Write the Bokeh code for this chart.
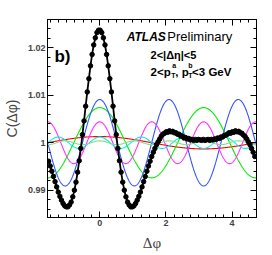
import numpy as np
from bokeh.plotting import figure
from bokeh.models import Label, LinearAxis, FixedTicker, Range1d
from bokeh.embed import file_html
from bokeh.resources import INLINE

# harmonic amplitudes (2 v_n), n = 1..6
harm_n = [1, 2, 3, 4, 5, 6]
harm_amp = [0.0013, 0.0074, 0.0091, 0.0044, 0.0012, 0.0004]
harm_col = ["#ff0000", "#00ee00", "#3355ff", "#ff33ff", "#00eeee", "#88dd88"]

c_vals = [
    0.9961, 0.9951, 0.9940, 0.9929, 0.9918, 0.9907, 0.9896, 0.9887, 0.9879, 0.9872, 0.9867, 0.9865,
    0.9865, 0.9869, 0.9875, 0.9886, 0.9900, 0.9917, 0.9938, 0.9962, 0.9988, 1.0017, 1.0046, 1.0077,
    1.0107, 1.0135, 1.0162, 1.0186, 1.0206, 1.0221, 1.0232, 1.0237, 1.0237, 1.0232, 1.0221, 1.0206,
    1.0186, 1.0162, 1.0135, 1.0107, 1.0077, 1.0046, 1.0017, 0.9988, 0.9962, 0.9938, 0.9917, 0.9900,
    0.9886, 0.9875, 0.9869, 0.9865, 0.9865, 0.9867, 0.9872, 0.9879, 0.9887, 0.9896, 0.9907, 0.9918,
    0.9929, 0.9940, 0.9951, 0.9961, 0.9971, 0.9980, 0.9988, 0.9996, 1.0002, 1.0008, 1.0014, 1.0018,
    1.0020, 1.0023, 1.0022, 1.0025, 1.0023, 1.0024, 1.0021, 1.0021, 1.0018, 1.0018, 1.0014, 1.0014,
    1.0010, 1.0011, 1.0008, 1.0009, 1.0006, 1.0007, 1.0005, 1.0007, 1.0005, 1.0007, 1.0006, 1.0005,
    1.0007, 1.0005, 1.0006, 1.0007, 1.0005, 1.0007, 1.0006, 1.0008, 1.0007, 1.0010, 1.0009, 1.0012,
    1.0012, 1.0015, 1.0016, 1.0018, 1.0021, 1.0020, 1.0023, 1.0022, 1.0025, 1.0023, 1.0024, 1.0021,
    1.0020, 1.0016, 1.0013, 1.0008, 1.0002, 0.9996, 0.9988, 0.9980, 0.9971,
]
nb = len(c_vals)
phi = -np.pi / 2 + (np.arange(nb) + 0.5) * 2 * np.pi / nb

x_ticks = [0, 2, 4]
y_ticks = [0.99, 1.0, 1.01, 1.02]
y_tick_labels = ["0.99", "1", "1.01", "1.02"]

x0, x1 = -1.58, 4.74
y0, y1 = 0.98425, 1.02596

p = figure(width=272, height=255, x_range=Range1d(x0, x1), y_range=Range1d(y0, y1),
           output_backend="svg", toolbar_location=None,
           min_border_left=45, min_border_right=16, min_border_top=19, min_border_bottom=38)
p.background_fill_color = "white"
p.border_fill_color = "white"
p.outline_line_color = "black"
p.xgrid.visible = False
p.ygrid.visible = False

xc = np.linspace(x0, x1, 600)
for n, a, c in zip(harm_n, harm_amp, harm_col):
    p.line(xc, 1 + a * np.cos(n * xc), line_color=c, line_width=1.1)

p.line(phi, c_vals, line_color="black", line_width=1.8)
p.scatter(phi, c_vals, size=4.5, color="black")

xt = FixedTicker(ticks=x_ticks, minor_ticks=list(np.arange(-1.5, 4.76, 0.25)))
yt = FixedTicker(ticks=y_ticks, minor_ticks=list(np.round(np.arange(0.986, 1.0261, 0.002), 3)))

def style(ax, ticker, labels=True):
    ax.ticker = ticker
    ax.axis_line_color = "black"
    ax.major_tick_in = 6
    ax.major_tick_out = 0
    ax.minor_tick_in = 3
    ax.minor_tick_out = 0
    ax.major_tick_line_color = "black"
    ax.minor_tick_line_color = "black"
    ax.major_label_text_font = "Liberation Sans"
    ax.major_label_text_font_style = "bold"
    ax.major_label_text_font_size = "9px"
    ax.major_label_standoff = 2
    if not labels:
        ax.major_label_overrides = {t: "" for t in ticker.ticks}
        ax.major_label_standoff = 0

style(p.xaxis[0], xt)
style(p.yaxis[0], yt)
p.yaxis[0].major_label_overrides = dict(zip(y_ticks, y_tick_labels))
p.xaxis[0].major_label_overrides = {t: str(t) for t in x_ticks}

p.xaxis[0].axis_label = "\u0394\u03c6"
p.xaxis[0].axis_label_text_font = "Liberation Serif"
p.xaxis[0].axis_label_text_font_style = "normal"
p.xaxis[0].axis_label_text_font_size = "15px"
p.xaxis[0].axis_label_standoff = 6

p.yaxis[0].axis_label = "C(\u0394\u03c6)"
p.yaxis[0].axis_label_text_font = "Liberation Sans"
p.yaxis[0].axis_label_text_font_style = "normal"
p.yaxis[0].axis_label_text_font_size = "14px"
p.yaxis[0].axis_label_standoff = 5

ax_top = LinearAxis()
style(ax_top, xt, False)
p.add_layout(ax_top, "above")
ax_r = LinearAxis()
style(ax_r, yt, False)
p.add_layout(ax_r, "right")

FL, FT, FW, FH = 45, 19, 211, 198
def dx(px):
    return x0 + (px - FL) / FW * (x1 - x0)
def dy(py):
    return y1 - (py - FT) / FH * (y1 - y0)

def txt(s, px, py, size, style="normal", font="Liberation Sans", align="left", baseline="alphabetic"):
    p.add_layout(Label(x=dx(px), y=dy(py), text=s, text_font=font, text_font_size=size,
                       text_font_style=style, text_align=align, text_baseline=baseline,
                       text_color="black"))

txt("b)", 52, 56, "17px", "bold")
txt("ATLAS", 125, 36, "12px", "bold italic")
txt("Preliminary", 166, 36, "13px")
txt("2<|\u0394\u03b7|<5", 149, 54, "11px", "bold")
txt("2<p", 149, 71.5, "11.5px", "bold")
txt("a", 171, 64.5, "7px", "bold")
txt("T", 170, 75, "7px", "bold")
txt(", p", 174, 71.5, "11.5px", "bold")
txt("b", 187, 64.5, "7px", "bold")
txt("T", 187, 75, "7px", "bold")
txt("<3 GeV", 191, 71.5, "11.5px", "bold")

open("out.html", "w").write(file_html(p, INLINE))
